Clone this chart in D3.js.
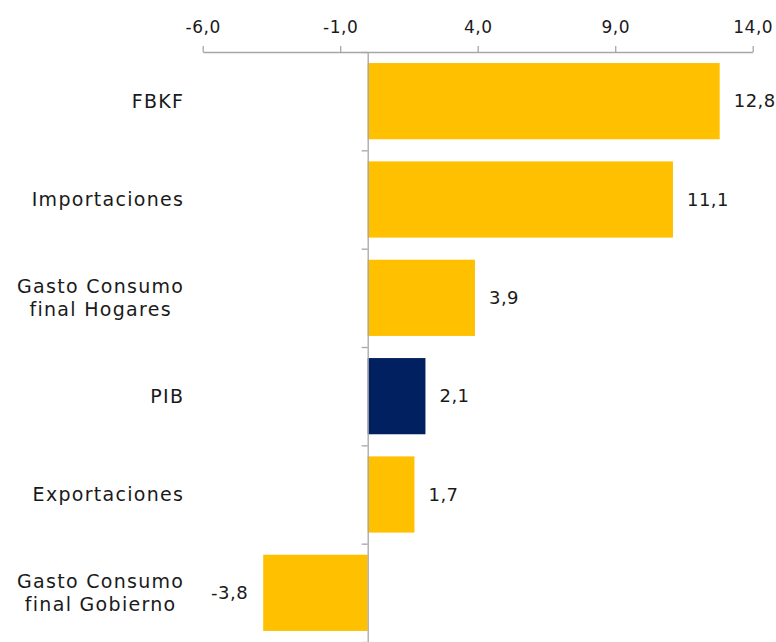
<!DOCTYPE html>
<html>
<head>
<meta charset="utf-8">
<script src="https://cdn.jsdelivr.net/npm/d3@7"></script>
<style>
  body { margin: 0; background: #fff; }
  text { font-family: "DejaVu Sans", sans-serif; fill: #1a1a1a; letter-spacing: 0.5px; }
</style>
</head>
<body>
<div id="chart"></div>
<script>
// Chart data
const categories = ["FBKF", "Importaciones", "Gasto Consumo|final Hogares", "PIB", "Exportaciones", "Gasto Consumo|final Gobierno"];
const values = [12.8, 11.1, 3.9, 2.1, 1.7, -3.8];
const highlight = ["PIB"];
const tickValues = [-6, -1, 4, 9, 14];

const width = 776, height = 642;
const gold = "#FFC000", navy = "#002060", grey = "#a6a6a6";

const svg = d3.select("#chart").append("svg")
    .attr("width", width)
    .attr("height", height);

const x = d3.scaleLinear()
    .domain([-6, 14])
    .range([202.7, 752.7]);

const y = d3.scaleBand()
    .domain(categories)
    .range([52, 642])
    .paddingInner(0.225)
    .paddingOuter(0.1125);

const fmt = d => d.toFixed(1).replace(".", ",");

// top axis
const xAxis = svg.append("g")
    .attr("transform", "translate(0,52)")
    .call(d3.axisTop(x).tickValues(tickValues).tickSize(6).tickSizeOuter(0).tickFormat(fmt));
xAxis.selectAll("line, path").attr("stroke", grey).attr("stroke-width", 1.3);
xAxis.selectAll("text")
    .attr("y", -19)
    .style("font-size", "17px")
    .style("font-family", "DejaVu Sans")
    .attr("fill", "#1a1a1a");

// bars
svg.selectAll(".bar")
    .data(values)
    .enter()
    .append("rect")
    .attr("class", "bar")
    .attr("x", d => x(Math.min(0, d)))
    .attr("width", d => Math.abs(x(d) - x(0)))
    .attr("y", (d, i) => y(categories[i]))
    .attr("height", y.bandwidth())
    .attr("fill", (d, i) => highlight.includes(categories[i]) ? navy : gold);

// zero line with ticks at band edges
const step = y.step();
const edges = d3.range(categories.length + 1).map(i => 52 + i * step);
const zeroAxis = svg.append("g")
    .attr("transform", `translate(${x(0)},0)`)
    .call(d3.axisLeft(d3.scaleLinear().domain([52, 642]).range([52, 642]))
        .tickValues(edges).tickSize(6).tickSizeOuter(0).tickFormat(""));
zeroAxis.selectAll("line, path").attr("stroke", grey).attr("stroke-width", 1.3);

// value labels
svg.selectAll(".val")
    .data(values)
    .enter()
    .append("text")
    .attr("class", "val")
    .attr("x", d => d >= 0 ? x(d) + 14 : x(d) - 15)
    .attr("y", (d, i) => y(categories[i]) + y.bandwidth() / 2)
    .attr("dy", "0.35em")
    .attr("text-anchor", d => d >= 0 ? "start" : "end")
    .style("font-size", "18px")
    .text(fmt);

// category labels: block right-aligned at 183, lines centred inside the block
const labelRight = 184.3;
categories.forEach((c, i) => {
    const lines = c.split("|");
    const cy = y(c) + y.bandwidth() / 2;
    const g = svg.append("text")
        .style("font-size", "19px")
        .style("letter-spacing", "1.3px");
    const spans = lines.map((l, k) => g.append("tspan")
        .attr("y", cy + (k - (lines.length - 1) / 2) * 23)
        .attr("dy", "0.35em")
        .text(l));
    const maxW = d3.max(spans, s => s.node().getComputedTextLength());
    spans.forEach(s => s.attr("x", labelRight - maxW / 2));
    g.attr("text-anchor", "middle");
});
</script>
</body>
</html>
